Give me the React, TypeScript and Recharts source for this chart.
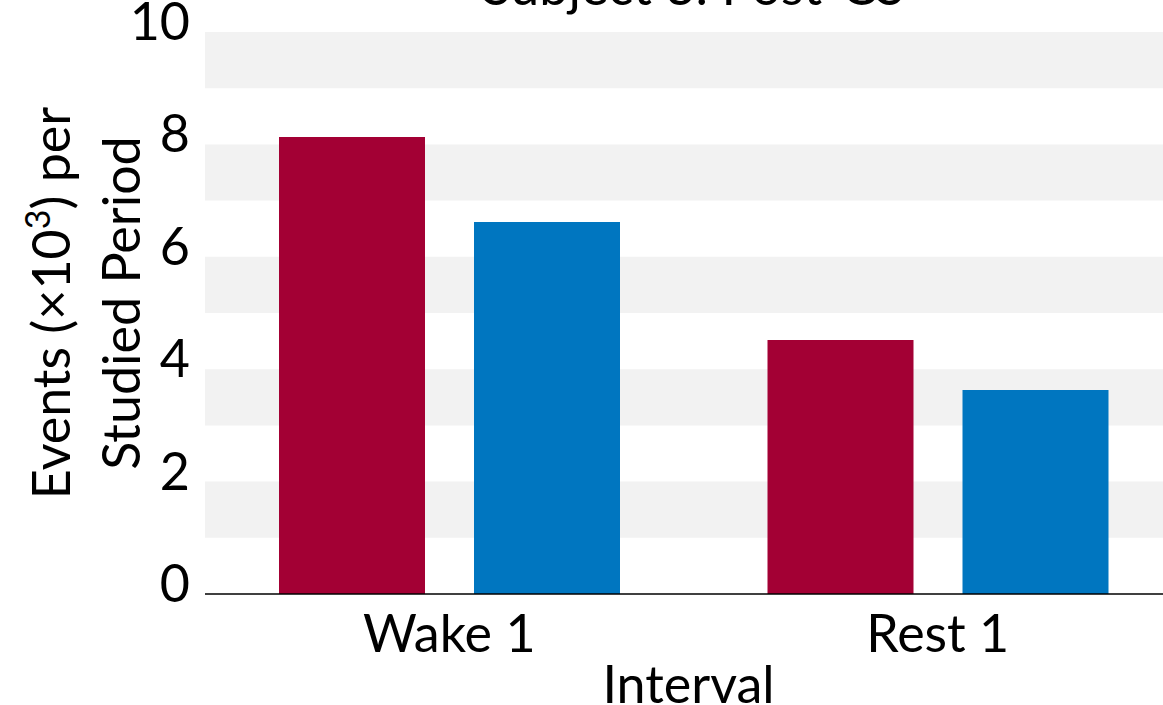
import React from 'react';
import { BarChart, Bar, XAxis, YAxis, ReferenceArea, ReferenceLine } from 'recharts';

const categories = ['Wake 1', 'Rest 1'];
const redValues = [8.13, 4.52];
const blueValues = [6.62, 3.63];
const yTicks = [0, 2, 4, 6, 8, 10];
const bandRanges: [number, number][] = [[1, 2], [3, 4], [5, 6], [7, 8], [9, 10]];
const titleText = 'Subject 3: Post-CS';
const xAxisTitle = 'Interval';
const yAxisLine1 = 'Events (\u00d710';
const yAxisSup = '3';
const yAxisLine1End = ') per';
const yAxisLine2 = 'Studied Period';

const data = categories.map((name, i) => ({ name, red: redValues[i], blue: blueValues[i] }));

const FONT = 'Lato, "Open Sans", sans-serif';
const FS = 52;
const RED = '#a30034';
const BLUE = '#0076c0';
const BAND = '#f2f2f2';

const YTick = (props: any) => {
  const { x, y, payload } = props;
  return (
    <text x={x} y={y} dy={8} textAnchor="end" fontSize={FS} fontFamily={FONT} fill="#000">
      {payload.value}
    </text>
  );
};

const XTick = (props: any) => {
  const { x, y, payload } = props;
  return (
    <text x={x} y={y} dy={58} textAnchor="middle" fontSize={FS} fontFamily={FONT} fill="#000">
      {payload.value}
    </text>
  );
};

const YLabel = (props: any) => {
  const vb = props.viewBox || {};
  const cy = vb.y + vb.height / 2 - 10;
  const x1 = vb.x + 70;
  const x2 = vb.x + 140;
  return (
    <g fontFamily={FONT} fontSize={FS} fill="#000">
      <text x={x1} y={cy} textAnchor="middle" transform={`rotate(-90, ${x1}, ${cy})`}>
        <tspan>{yAxisLine1}</tspan>
        <tspan dy={-20} fontSize={34}>{yAxisSup}</tspan>
        <tspan dy={20}>{yAxisLine1End}</tspan>
      </text>
      <text x={x2} y={cy} textAnchor="middle" transform={`rotate(-90, ${x2}, ${cy})`}>
        {yAxisLine2}
      </text>
    </g>
  );
};

export default function App() {
  return (
    <div style={{ position: 'fixed', left: 0, top: 0, width: 1163, height: 705, overflow: 'hidden', background: '#fff' }}>
      <BarChart
        width={1200}
        height={705}
        data={data}
        margin={{ top: 32, right: 18, bottom: 0, left: 0 }}
        barSize={146}
        barGap={49}
      >
        {bandRanges.map(([a, b]) => (
          <ReferenceArea key={a} y1={a} y2={b} fill={BAND} fillOpacity={1} stroke="none" ifOverflow="visible" />
        ))}
        <ReferenceLine
          y={10}
          stroke="none"
          ifOverflow="visible"
          label={{ value: titleText, position: 'top', offset: 27, fontSize: FS, fontFamily: FONT, fill: '#000' }}
        />
        <XAxis
          dataKey="name"
          height={111}
          axisLine={{ stroke: '#000', strokeWidth: 1.5 }}
          tickLine={false}
          tickSize={0}
          tickMargin={0}
          tick={<XTick />}
          interval={0}
          label={{ value: xAxisTitle, position: 'insideBottom', offset: 2, dx: -5, fontSize: FS, fontFamily: FONT, fill: '#000' }}
        />
        <YAxis
          width={205}
          domain={[0, 10]}
          ticks={yTicks}
          axisLine={false}
          tickLine={false}
          tickSize={0}
          tickMargin={15}
          tick={<YTick />}
          interval={0}
          label={{ content: (p: any) => <YLabel {...p} /> }}
        />
        <Bar dataKey="red" fill={RED} isAnimationActive={false} />
        <Bar dataKey="blue" fill={BLUE} isAnimationActive={false} />
      </BarChart>
    </div>
  );
}
